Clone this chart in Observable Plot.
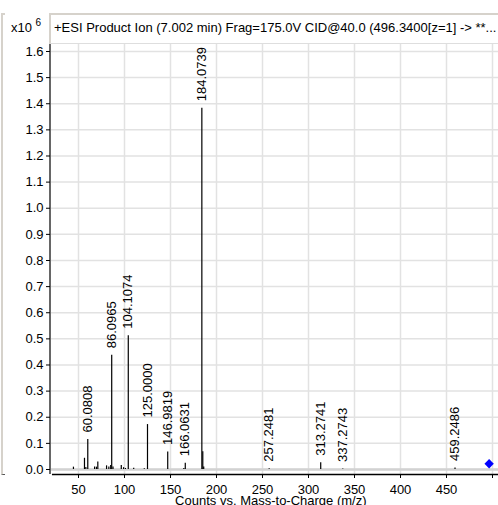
<!DOCTYPE html>
<html>
<head>
<meta charset="utf-8">
<script src="https://cdn.jsdelivr.net/npm/d3@7"></script>
<script src="https://cdn.jsdelivr.net/npm/@observablehq/plot@0.6"></script>
<style>
  html, body { margin: 0; padding: 0; background: white; }
  #wrap { position: relative; width: 498px; height: 505px; overflow: hidden; font-family: "Liberation Sans", Arial, sans-serif; }
  #wrap svg { position: absolute; left: 0; top: 0; }
  .titlebox { position: absolute; left: 49px; top: 13px; width: 460px; height: 28px; border-top: 2px solid #d6d2cb; border-left: 2px solid #d6d2cb; border-bottom: 1px solid #dedede; }
  .title { position: absolute; left: 54px; top: 20px; font-size: 13px; color: #000; white-space: nowrap; }
  .scale { position: absolute; left: 11px; top: 20px; font-size: 13px; color: #000; white-space: nowrap; }
  .scale sup { font-size: 10px; position: relative; top: -2px; vertical-align: top; line-height: 1; }
  .leftpanel { position: absolute; left: 1px; top: 13px; width: 2px; height: 459px; border-left: 2px solid #d6d2cb; border-top: 2px solid #d6d2cb; border-bottom: 1px solid #555; }
</style>
</head>
<body>
<div id="wrap">
  <div class="leftpanel"></div>
</div>
<script>
// Spectrum peaks (m/z, counts in units of 10^6)
const peakMz = [44.5, 56.5, 58.0, 60.0808, 67.5, 69.5, 71.0, 80.5, 83.0, 85.0, 86.0965, 87.5, 96.5, 99.0, 101.0, 104.1074, 110.0, 121.5, 125.0000, 146.9819, 164.5, 166.0631, 184.0739, 185.1, 186.1, 257.2481, 313.2741, 337.2743, 459.2486];
const peakInt = [0.009, 0.043, 0.008, 0.115, 0.010, 0.009, 0.029, 0.014, 0.010, 0.015, 0.437, 0.010, 0.015, 0.007, 0.004, 0.512, 0.005, 0.003, 0.172, 0.067, 0.004, 0.024, 1.383, 0.068, 0.010, 0.003, 0.026, 0.002, 0.006];

// Annotated peaks
const labelMz = [60.0808, 86.0965, 104.1074, 125.0000, 146.9819, 166.0631, 184.0739, 257.2481, 313.2741, 337.2743, 459.2486];
const labelInt = [0.115, 0.437, 0.512, 0.172, 0.067, 0.024, 1.383, 0.003, 0.026, 0.002, 0.006];
const labelText = ["60.0808", "86.0965", "104.1074", "125.0000", "146.9819", "166.0631", "184.0739", "257.2481", "313.2741", "337.2743", "459.2486"];

// Precursor marker
const precursorMz = [496.34];
const precursorInt = [0.022];

// Axis ticks
const xTicks = [50, 100, 150, 200, 250, 300, 350, 400, 450, 500];
const yTicks = [0, 0.1, 0.2, 0.3, 0.4, 0.5, 0.6, 0.7, 0.8, 0.9, 1, 1.1, 1.2, 1.3, 1.4, 1.5, 1.6];

const titleText = "+ESI Product Ion (7.002 min) Frag=175.0V CID@40.0 (496.3400[z=1] -> **...";
const xLabel = "Counts vs. Mass-to-Charge (m/z)";

const peaks = peakMz.map((m, i) => ({mz: m, v: peakInt[i]}));
const labels = labelMz.map((m, i) => ({mz: m, v: labelInt[i], t: labelText[i]}));
const prec = precursorMz.map((m, i) => ({mz: m, v: precursorInt[i]}));

const xDom = [19.565, 506.52];
const yDom = [-0.01914, 1.63062];

const chart = Plot.plot({
  width: 498,
  height: 505,
  marginLeft: 50,
  marginRight: 0,
  marginTop: 43,
  marginBottom: 31,
  style: {fontFamily: "'Liberation Sans', Arial, sans-serif", fontSize: "13px", background: "transparent", overflow: "visible", color: "#000"},
  x: {domain: xDom},
  y: {domain: yDom},
  marks: [
    Plot.gridX(xTicks, {stroke: "#e2e2e2", strokeOpacity: 1, strokeWidth: 1.5}),
    Plot.gridY(yTicks, {stroke: "#e2e2e2", strokeOpacity: 1, strokeWidth: 1.5}),
    Plot.ruleY([0], {stroke: "#d2d2d2", strokeWidth: 2.5}),
    Plot.ruleX(peaks, {x: "mz", y1: 0, y2: "v", stroke: "#000", strokeWidth: 1.2}),
    Plot.text(labels, {x: "mz", y: "v", text: "t", rotate: -90, textAnchor: "start", dy: -7, fontSize: 13, fill: "#000"}),
    Plot.dot(prec, {x: "mz", y: "v", symbol: "diamond2", r: 4.2, fill: "#0000ff", stroke: "none"}),
    Plot.ruleX([xDom[0]], {stroke: "#666", strokeWidth: 2, dx: -0.5}),
    Plot.ruleY([yDom[0]], {x1: 21.7, x2: xDom[1], stroke: "#000", strokeWidth: 1.5}),
    Plot.axisX(xTicks, {tickSize: 4, tickPadding: 6, label: null, tickFormat: d => d === 500 ? "" : String(d), fontSize: 13}),
    Plot.axisY(yTicks, {tickSize: 4, tickPadding: 3, label: null, fontSize: 13}),
    Plot.text([xLabel], {frameAnchor: "bottom", x: (xDom[0] + xDom[1]) / 2 - 4, text: d => d, dy: 30, fontSize: 13, fill: "#000"})
  ]
});

const wrap = document.getElementById("wrap");
wrap.appendChild(chart);
const tb = document.createElement("div"); tb.className = "titlebox"; wrap.appendChild(tb);
const tt = document.createElement("div"); tt.className = "title"; tt.textContent = titleText; wrap.appendChild(tt);
const sc = document.createElement("div"); sc.className = "scale"; sc.innerHTML = "x10 <sup>6</sup>"; wrap.appendChild(sc);
</script>
</body>
</html>
